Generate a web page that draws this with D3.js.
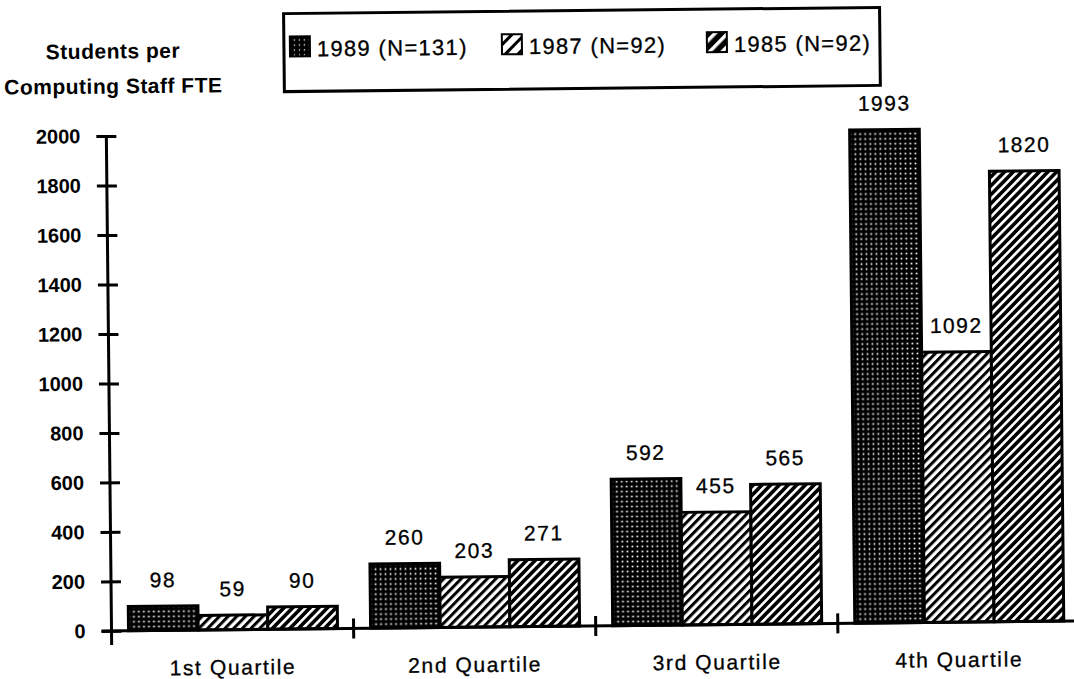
<!DOCTYPE html>
<html><head><meta charset="utf-8">
<script src="https://cdn.jsdelivr.net/npm/d3@7"></script>
<style>
html,body{margin:0;padding:0;background:#fff;}
svg{display:block;}
text{font-family:"Liberation Sans", Arial, Helvetica, sans-serif; fill:#000;}
</style></head><body>
<svg id="chart" width="1074" height="679"></svg>
<script>
// Students per computing staff FTE, by quartile and survey year
const quartiles = ["1st Quartile", "2nd Quartile", "3rd Quartile", "4th Quartile"];
const seriesNames = ["1989 (N=131)", "1987 (N=92)", "1985 (N=92)"];
const values1989 = [98, 260, 592, 1993];
const values1987 = [59, 203, 455, 1092];
const values1985 = [90, 271, 565, 1820];
const yTicks = [0, 200, 400, 600, 800, 1000, 1200, 1400, 1600, 1800, 2000];
const axisTitle = ["Students per", "Computing Staff FTE"];

const series = [
  {name: seriesNames[0], values: values1989, fill: "url(#pDots)", key: "pDotsL"},
  {name: seriesNames[1], values: values1987, fill: "url(#pLight)", key: "pLightL"},
  {name: seriesNames[2], values: values1985, fill: "url(#pDark)", key: "pDarkL"}
];

const svg = d3.select("#chart");
const defs = svg.append("defs");

// fill patterns
function dots(id, step, size) {
  const p = defs.append("pattern").attr("id", id).attr("patternUnits", "userSpaceOnUse")
    .attr("width", step).attr("height", step);
  p.append("rect").attr("width", step).attr("height", step).attr("fill", "#000");
  p.append("rect").attr("x", (step - size) / 2).attr("y", (step - size) / 2)
    .attr("width", size).attr("height", size).attr("fill", "#fff");
}
function stripes(id, step, black, baseDark) {
  const p = defs.append("pattern").attr("id", id).attr("patternUnits", "userSpaceOnUse")
    .attr("width", step).attr("height", step).attr("patternTransform", "rotate(45)");
  p.append("rect").attr("width", step).attr("height", step).attr("fill", baseDark ? "#000" : "#fff");
  p.append("rect").attr("width", baseDark ? step - black : black).attr("height", step)
    .attr("fill", baseDark ? "#fff" : "#000");
}
dots("pDots", 5, 1.7);
stripes("pLight", 6.2, 3.0, false);
stripes("pDark", 6.2, 3.6, true);
dots("pDotsL", 5, 1.3);
stripes("pLightL", 9, 3, false);
stripes("pDarkL", 9, 5.5, true);

const root = svg.append("g").attr("transform", "rotate(-0.6 537 340)");

const plotLeft = 108.5, plotBottom = 626.5, plotTop = 131.5;
const x0 = d3.scaleBand().domain(quartiles).range([plotLeft, plotLeft + 4 * 242.1]).padding(0);
const x1 = d3.scaleBand().domain(seriesNames).range([17, 226]).padding(0);
const y = d3.scaleLinear().domain([0, 2000]).range([plotBottom, plotTop]);

// bars
const groups = root.append("g").selectAll("g").data(quartiles).join("g")
  .attr("transform", d => `translate(${x0(d)},0)`);
groups.each(function(q, qi) {
  const g = d3.select(this);
  series.forEach(s => {
    const v = s.values[qi];
    g.append("rect")
      .attr("x", x1(s.name)).attr("y", y(v))
      .attr("width", x1.bandwidth()).attr("height", y(0) - y(v))
      .attr("fill", s.fill).attr("stroke", "#000").attr("stroke-width", 3);
    g.append("text")
      .attr("x", x1(s.name) + x1.bandwidth() / 2).attr("y", y(v) - 19)
      .attr("text-anchor", "middle").attr("font-size", 21).attr("letter-spacing", 1.5)
      .attr("stroke", "#000").attr("stroke-width", 0.3)
      .text(v);
  });
});

// y axis
const yAxis = root.append("g").attr("transform", `translate(${plotLeft},0)`)
  .call(d3.axisLeft(y).tickValues(yTicks).tickFormat(d3.format("d"))
    .tickSizeOuter(0).tickSizeInner(10).tickPadding(16));
yAxis.select(".domain").remove();
yAxis.selectAll(".tick line").attr("x1", -10).attr("x2", 10).attr("stroke-width", 3);
yAxis.selectAll(".tick text").attr("font-family", "Liberation Sans, Arial, sans-serif")
  .attr("font-size", 20).attr("font-weight", "bold").attr("fill", "#000");
yAxis.append("line").attr("x1", 0).attr("x2", 0).attr("y1", y(2000)).attr("y2", plotBottom + 14)
  .attr("stroke", "#000").attr("stroke-width", 3);

// x axis
const xAxis = root.append("g").attr("transform", `translate(0,${plotBottom})`)
  .call(d3.axisBottom(x0).tickSize(0).tickPadding(30));
xAxis.select(".domain").remove();
xAxis.selectAll(".tick text").attr("font-family", "Liberation Sans, Arial, sans-serif")
  .attr("font-size", 21).attr("letter-spacing", 1.6).attr("fill", "#000")
  .attr("stroke", "#000").attr("stroke-width", 0.3);
xAxis.append("line").attr("x1", plotLeft - 10).attr("x2", 1090).attr("y1", 0).attr("y2", 0)
  .attr("stroke", "#000").attr("stroke-width", 3);
xAxis.selectAll(".sep").data(quartiles.slice(1)).join("line").attr("class", "sep")
  .attr("x1", d => x0(d)).attr("x2", d => x0(d)).attr("y1", -10).attr("y2", 10)
  .attr("stroke", "#000").attr("stroke-width", 3);

// axis title
root.append("g").selectAll("text").data(axisTitle).join("text")
  .attr("x", 116).attr("y", (d, i) => 54 + i * 35)
  .attr("text-anchor", "middle").attr("font-size", 21).attr("font-weight", "bold")
  .attr("letter-spacing", 0.5).text(d => d);

// legend
const legend = root.append("g");
legend.append("rect").attr("x", 287).attr("y", 11).attr("width", 596).attr("height", 78)
  .attr("fill", "none").attr("stroke", "#000").attr("stroke-width", 3);
const legendX = [293, 505, 710];
series.forEach((s, i) => {
  legend.append("rect").attr("x", legendX[i]).attr("y", 34).attr("width", 20).attr("height", 20)
    .attr("fill", `url(#${s.key})`).attr("stroke", "#000").attr("stroke-width", 2);
  legend.append("text").attr("x", legendX[i] + 27).attr("y", 54)
    .attr("font-size", 22).attr("letter-spacing", 1.3)
    .attr("stroke", "#000").attr("stroke-width", 0.3).text(s.name);
});
</script>
</body></html>
